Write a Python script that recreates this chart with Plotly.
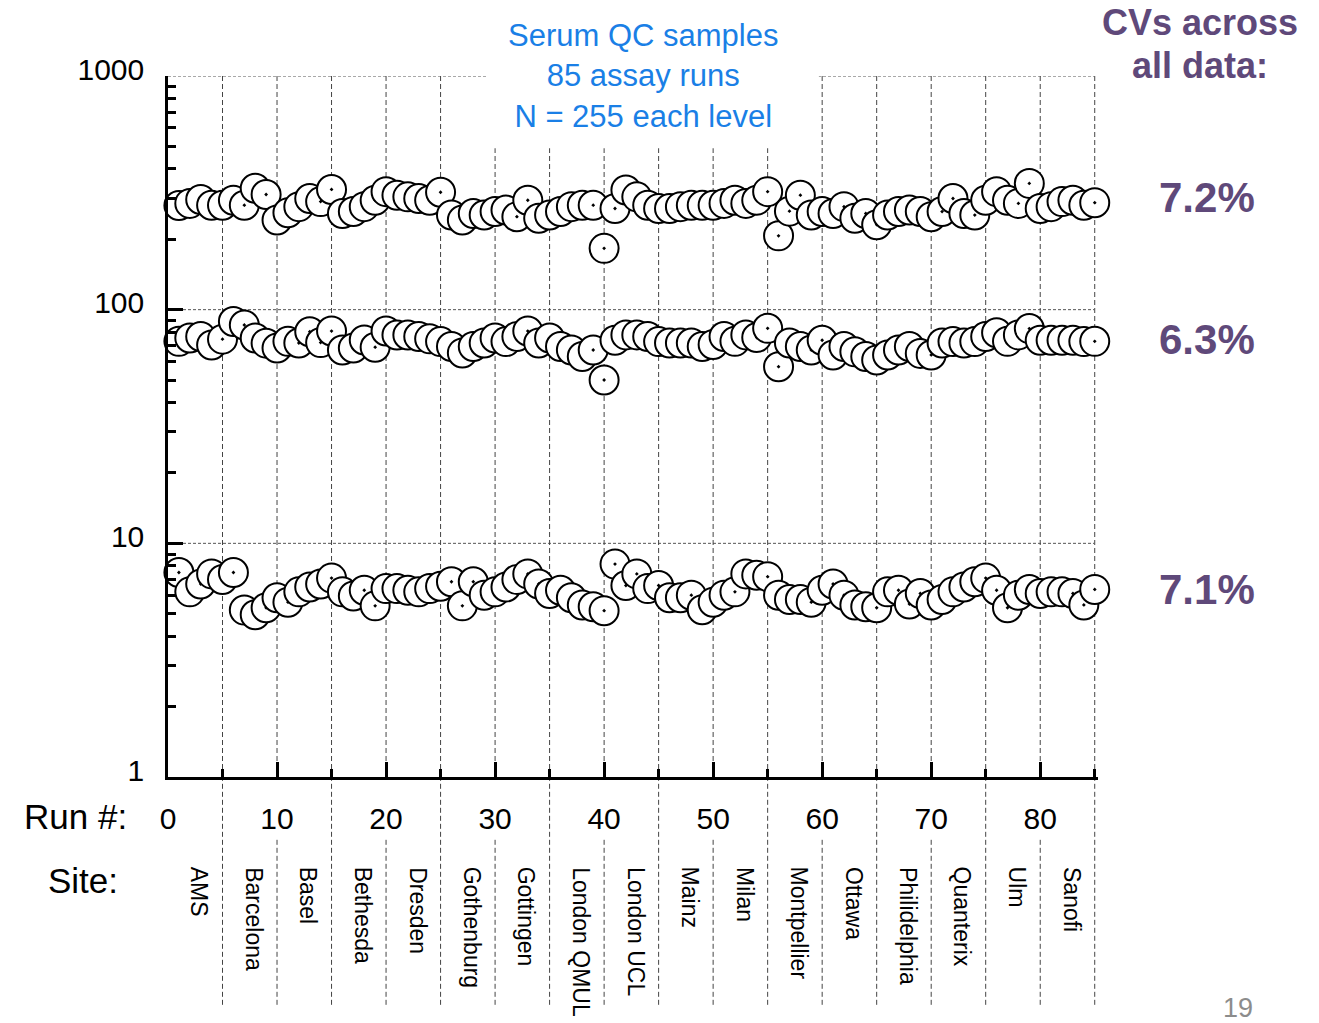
import plotly.graph_objects as go

# ---------------- data ----------------
runs = list(range(1, 86))

sites = ["AMS", "Barcelona", "Basel", "Bethesda", "Dresden", "Gothenburg", "Gottingen",
         "London QMUL", "London UCL", "Mainz", "Milan", "Montpellier", "Ottawa",
         "Philidelphia", "Quanterix", "Ulm", "Sanofi"]
site_boundaries = [5, 10, 15, 20, 25, 30, 35, 40, 45, 50, 55, 60, 65, 70, 75, 80, 85]
site_centers = [2.5, 7.5, 12.5, 17.5, 22.5, 27.5, 32.5, 37.5, 42.5, 47.5, 52.5, 57.5,
                62.5, 67.5, 72.5, 77.5, 82.5]

high_level = [279, 285, 296, 280, 280, 294, 280, 331, 311, 242,
              260, 276, 299, 290, 327, 258, 263, 276, 294, 320,
              309, 304, 299, 294, 318, 254, 242, 258, 254, 263,
              267, 250, 294, 246, 254, 263, 276, 280, 280, 183,
              271, 325, 304, 280, 271, 271, 276, 280, 280, 280,
              285, 294, 285, 294, 320, 207, 264, 309, 254, 263,
              258, 276, 246, 258, 231, 254, 263, 267, 263, 250,
              263, 299, 258, 254, 294, 320, 294, 285, 347, 271,
              276, 290, 294, 280, 287]

mid_level = [73.2, 75.6, 76.8, 70.6, 74.8, 89.0, 86.0, 75.6, 71.9, 68.5,
             73.2, 72.0, 80.5, 72.3, 81.0, 67.2, 68.5, 74.2, 69.1, 81.0,
             77.9, 77.9, 76.8, 75.0, 73.0, 69.6, 65.3, 69.6, 72.0, 75.6,
             73.0, 76.8, 81.0, 72.0, 75.6, 69.6, 67.2, 63.0, 67.2, 50.0,
             74.0, 78.0, 78.0, 76.8, 73.0, 72.0, 72.0, 72.0, 69.6, 71.0,
             76.8, 73.2, 78.0, 76.0, 83.2, 57.0, 72.0, 69.6, 67.2, 74.0,
             64.0, 69.6, 66.0, 63.0, 60.9, 64.0, 67.2, 69.6, 65.0, 64.0,
             72.0, 73.0, 72.0, 73.0, 76.8, 79.7, 73.2, 78.0, 83.0, 74.0,
             74.0, 74.0, 74.0, 73.0, 73.2]

low_level = [7.5, 6.2, 6.7, 7.4, 7.0, 7.5, 5.18, 4.95, 5.3, 5.85,
             5.6, 6.2, 6.5, 6.7, 7.1, 6.2, 5.95, 6.3, 5.4, 6.4,
             6.4, 6.3, 6.2, 6.4, 6.55, 6.85, 5.4, 6.85, 6.0, 6.2,
             6.5, 7.0, 7.4, 6.7, 6.1, 6.3, 5.85, 5.45, 5.35, 5.15,
             8.15, 6.6, 7.4, 6.4, 6.6, 5.85, 5.85, 6.0, 5.2, 5.6,
             6.0, 6.2, 7.4, 7.3, 7.2, 6.0, 5.75, 5.75, 5.6, 6.3,
             6.7, 6.0, 5.45, 5.35, 5.3, 6.2, 6.3, 5.5, 6.1, 5.45,
             5.75, 6.2, 6.5, 6.85, 7.1, 6.3, 5.3, 6.0, 6.35, 6.1,
             6.2, 6.2, 6.1, 5.45, 6.35]

cv_labels = ["7.2%", "6.3%", "7.1%"]
x_tick_vals = [0, 10, 20, 30, 40, 50, 60, 70, 80]
y_tick_vals = [1, 10, 100, 1000]
y_minor_vals = [m * 10 ** k for k in range(3) for m in range(2, 10)]

FONT = "Arial, Liberation Sans, sans-serif"
PURPLE = "#5F497A"
BLUE = "#1A7FE6"

fig = go.Figure()
for series in (high_level, mid_level, low_level):
    fig.add_trace(go.Scatter(
        x=runs, y=series, mode="markers",
        marker=dict(symbol="circle-dot", size=29, color="white",
                    line=dict(color="black", width=2)),
        showlegend=False, cliponaxis=False))

shapes = []
# horizontal dashed reference lines at decades
for v in [10, 100, 1000]:
    shapes.append(dict(type="line", xref="paper", yref="y", x0=0, x1=0.996, y0=v, y1=v,
                       line=dict(color="#555555", width=1, dash="3px,2px"), layer="below"))
# vertical site separators
for b in site_boundaries:
    shapes.append(dict(type="line", xref="x", yref="paper", x0=b, x1=b, y0=0, y1=1,
                       line=dict(color="#444444", width=1, dash="5px,3px"), layer="below"))
    y_start = -0.088 if b % 10 == 0 else 0
    shapes.append(dict(type="line", xref="x", yref="paper", x0=b, x1=b, y0=-0.325, y1=y_start,
                       line=dict(color="#444444", width=1, dash="5px,3px"), layer="below"))
# white box behind the title text
shapes.append(dict(type="rect", xref="x", yref="paper", x0=29.2, x1=59.7, y0=0.897, y1=1.05,
                   fillcolor="white", line=dict(width=0), layer="below"))

annotations = [
    dict(text="Serum QC samples<br>85 assay runs<br>N = 255 each level", xref="paper", yref="paper",
         x=0.5108, y=1.0, showarrow=False, font=dict(family=FONT, size=31, color=BLUE),
         xanchor="center", yanchor="middle"),
    dict(text="<b>CVs across</b>", xref="paper", yref="paper", x=1.1097, y=1.077,
         showarrow=False, font=dict(family=FONT, size=36, color=PURPLE), xanchor="center",
         yanchor="middle"),
    dict(text="<b>all data:</b>", xref="paper", yref="paper", x=1.1097, y=1.0143,
         showarrow=False, font=dict(family=FONT, size=36, color=PURPLE), xanchor="center",
         yanchor="middle"),
    dict(text="Run #:", xref="paper", yref="paper", x=-0.1, y=-0.057, showarrow=False,
         font=dict(family=FONT, size=35, color="black"), xanchor="center", yanchor="middle"),
    dict(text="Site:", xref="paper", yref="paper", x=-0.0914, y=-0.147, showarrow=False,
         font=dict(family=FONT, size=35, color="black"), xanchor="center", yanchor="middle"),
    dict(text="19", xref="paper", yref="paper", x=1.1505, y=-0.3295, showarrow=False,
         font=dict(family=FONT, size=27, color="#8C8C8C"), xanchor="center", yanchor="middle"),
]
for lab, yp in zip(cv_labels, [0.827, 0.624, 0.2668]):
    annotations.append(dict(text="<b>" + lab + "</b>", xref="paper", yref="paper", x=1.117, y=yp,
                            showarrow=False, font=dict(family=FONT, size=42, color=PURPLE),
                            xanchor="center", yanchor="middle"))
for s, c in zip(sites, site_centers):
    annotations.append(dict(text=s, xref="x", yref="paper", x=c, y=-0.1255, textangle=90,
                            showarrow=False, font=dict(family=FONT, size=23, color="black"),
                            xanchor="left", xshift=-11, yanchor="top"))

fig.update_layout(
    width=1319, height=1023,
    margin=dict(l=168, r=221, t=76, b=246),
    paper_bgcolor="white", plot_bgcolor="white",
    shapes=shapes, annotations=annotations,
    font=dict(family=FONT, color="black"),
    xaxis=dict(range=[0, 85.3], tickvals=x_tick_vals, ticks="inside", ticklen=15, tickwidth=2.5,
               tickcolor="black", showline=True, linecolor="black", linewidth=2.5,
               showgrid=False, zeroline=False, tickfont=dict(family=FONT, size=30),
               ticklabelstandoff=13,
               minor=dict(dtick=5, tick0=0, ticks="inside", ticklen=8, tickwidth=2.5,
                          tickcolor="black", showgrid=False)),
    yaxis=dict(type="log", range=[0, 3], tickvals=y_tick_vals, ticktext=["1", "10", "100", "1000"],
               ticks="inside", ticklen=15, tickwidth=2.5, tickcolor="black",
               showline=True, linecolor="black", linewidth=2.5, showgrid=False, zeroline=False,
               tickfont=dict(family=FONT, size=30), ticklabelstandoff=15, ticklabelshift=-7,
               minor=dict(tickvals=y_minor_vals, ticks="inside", ticklen=8, tickwidth=2.5,
                          tickcolor="black", showgrid=False)),
)

fig.write_html("out.html", config={"displayModeBar": False},
               post_script="document.body.style.margin='0px';")
